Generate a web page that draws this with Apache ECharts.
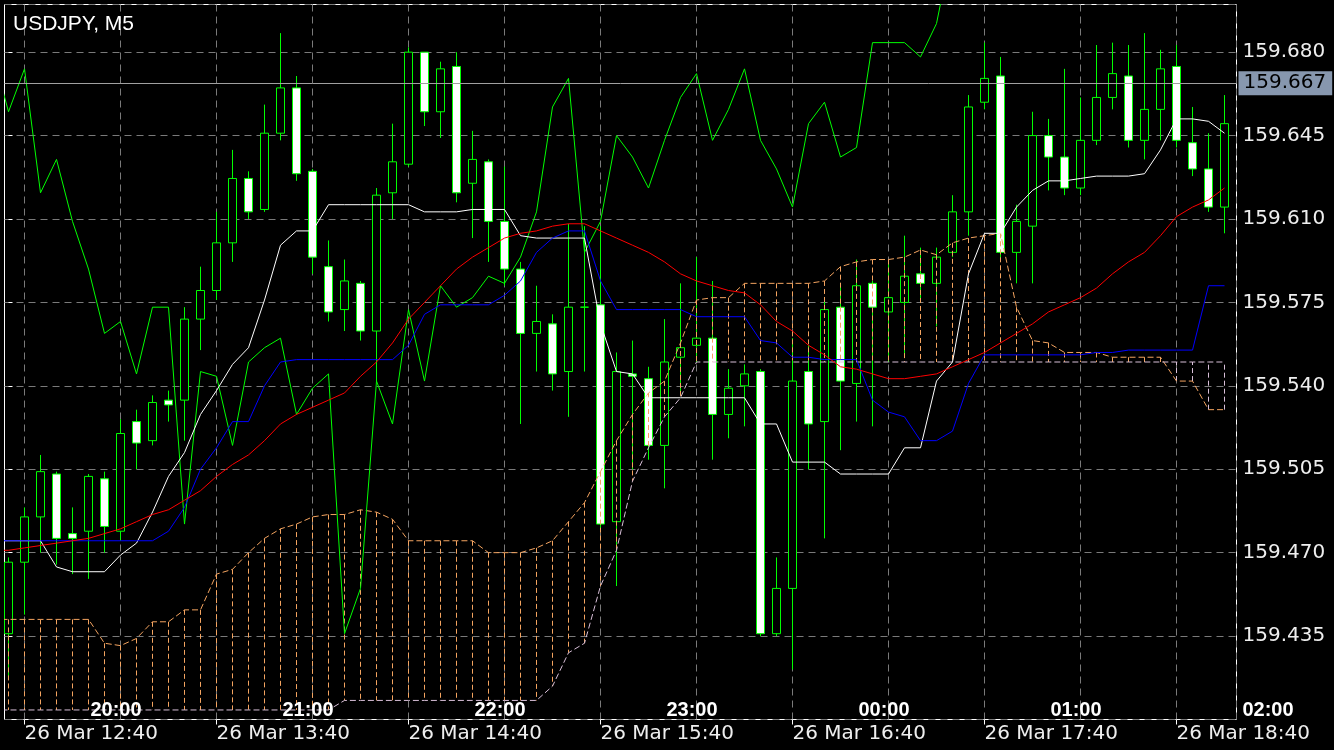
<!DOCTYPE html>
<html>
<head>
<meta charset="utf-8">
<script src="https://cdn.jsdelivr.net/npm/echarts@6/dist/echarts.min.js"></script>
<style>
html,body{margin:0;padding:0;background:#000;}
#c{width:1334px;height:750px;}
</style>
</head>
<body>
<div id="c"></div>
<script>
// ---------------- data ----------------
const symbolTitle = 'USDJPY, M5';
const bottomLabels = ['26 Mar 12:40','26 Mar 13:40','26 Mar 14:40','26 Mar 15:40','26 Mar 16:40','26 Mar 17:40','26 Mar 18:40'];
const topLabels = ['20:00','21:00','22:00','23:00','00:00','01:00','02:00'];
const currentPrice = 159.667;

// candles, index 0..76
const opens = [159.436,159.466,159.485,159.503,159.478,159.479,159.501,159.479,159.525,159.517,
159.534,159.534,159.568,159.580,159.600,159.627,159.614,159.646,159.665,159.630,
159.590,159.572,159.583,159.563,159.621,159.633,159.680,159.655,159.674,159.625,
159.634,159.609,159.589,159.562,159.566,159.546,159.573,159.574,159.483,159.545,
159.543,159.515,159.552,159.557,159.560,159.528,159.540,159.546,159.436,159.455,
159.546,159.525,159.573,159.541,159.583,159.571,159.575,159.587,159.583,159.596,
159.613,159.659,159.670,159.596,159.607,159.645,159.636,159.623,159.643,159.661,
159.670,159.643,159.656,159.674,159.642,159.631,159.615];
const closes = [159.466,159.485,159.504,159.476,159.476,159.502,159.481,159.520,159.516,159.533,
159.532,159.568,159.580,159.600,159.627,159.613,159.646,159.665,159.629,159.594,
159.571,159.584,159.563,159.620,159.634,159.680,159.655,159.673,159.621,159.635,
159.609,159.589,159.562,159.567,159.545,159.573,159.573,159.482,159.546,159.544,
159.515,159.550,159.556,159.560,159.528,159.539,159.545,159.436,159.455,159.542,
159.524,159.572,159.542,159.582,159.573,159.577,159.586,159.583,159.594,159.613,
159.657,159.669,159.596,159.609,159.645,159.636,159.623,159.643,159.661,159.671,
159.643,159.656,159.673,159.643,159.631,159.615,159.650];
const lows = [159.417,159.444,159.470,159.465,159.461,159.459,159.470,159.475,159.505,159.515,
159.525,159.517,159.555,159.576,159.592,159.610,159.613,159.643,159.626,159.587,
159.567,159.563,159.559,159.542,159.610,159.632,159.649,159.644,159.617,159.602,
159.592,159.582,159.524,159.546,159.538,159.527,159.546,159.479,159.456,159.505,
159.509,159.497,159.536,159.550,159.509,159.518,159.523,159.435,159.435,159.421,
159.505,159.476,159.513,159.525,159.523,159.550,159.552,159.575,159.565,159.594,
159.603,159.656,159.592,159.583,159.583,159.622,159.620,159.620,159.641,159.656,
159.640,159.635,159.643,159.640,159.628,159.613,159.604];
const highs = [159.468,159.489,159.511,159.504,159.489,159.503,159.504,159.526,159.530,159.536,
159.538,159.573,159.590,159.613,159.639,159.630,159.658,159.688,159.670,159.631,
159.601,159.593,159.584,159.623,159.650,159.682,159.680,159.676,159.680,159.647,
159.635,159.632,159.592,159.582,159.570,159.608,159.607,159.607,159.554,159.559,
159.548,159.568,159.583,159.594,159.584,159.547,159.549,159.547,159.468,159.560,
159.557,159.576,159.582,159.593,159.584,159.592,159.603,159.598,159.598,159.620,
159.662,159.684,159.678,159.616,159.655,159.652,159.673,159.661,159.683,159.684,
159.683,159.688,159.681,159.683,159.657,159.646,159.662];

// indicator lines start at bar index -1
const lineStart = -1;
const chikou = [159.680,159.655,159.673,159.621,159.635,159.609,159.589,159.562,159.567,159.545,
159.573,159.573,159.482,159.546,159.544,159.515,159.550,159.556,159.560,159.528,
159.539,159.545,159.436,159.455,159.542,159.524,159.572,159.542,159.582,159.573,
159.577,159.586,159.583,159.594,159.613,159.657,159.669,159.596,159.609,159.645,
159.636,159.623,159.643,159.661,159.671,159.643,159.656,159.673,159.643,159.631,
159.615,159.650,159.659,159.636,159.640,159.684,159.684,159.684,159.678,159.692,
159.725];
const tenkan = [159.475,159.475,159.475,159.475,159.464,159.462,159.462,159.462,159.469,159.474,
159.487,159.502,159.512,159.528,159.538,159.549,159.556,159.576,159.599,159.605,
159.605,159.616,159.616,159.616,159.616,159.616,159.616,159.613,159.613,159.613,
159.614,159.614,159.614,159.603,159.602,159.602,159.602,159.602,159.566,159.546,
159.545,159.535,159.535,159.535,159.535,159.535,159.535,159.535,159.524,159.524,
159.508,159.508,159.508,159.503,159.503,159.503,159.503,159.514,159.514,159.542,
159.550,159.587,159.604,159.604,159.615,159.622,159.626,159.626,159.627,159.628,
159.628,159.628,159.629,159.639,159.652,159.652,159.651,159.646];
const kijun = [159.475,159.475,159.475,159.475,159.475,159.475,159.475,159.475,159.475,159.475,
159.475,159.479,159.489,159.505,159.514,159.525,159.525,159.540,159.550,159.551,
159.551,159.551,159.551,159.551,159.551,159.551,159.557,159.570,159.574,159.574,
159.574,159.574,159.578,159.584,159.596,159.602,159.605,159.605,159.584,159.572,
159.572,159.572,159.572,159.572,159.569,159.569,159.569,159.569,159.559,159.558,
159.552,159.552,159.551,159.551,159.551,159.534,159.529,159.527,159.517,159.517,
159.521,159.541,159.553,159.553,159.553,159.553,159.553,159.553,159.553,159.554,
159.554,159.555,159.555,159.555,159.555,159.555,159.582,159.582];
const movingAvg = [159.471,159.471,159.472,159.473,159.474,159.475,159.476,159.478,159.480,159.483,
159.486,159.488,159.492,159.496,159.502,159.507,159.511,159.517,159.524,159.528,
159.531,159.534,159.537,159.544,159.550,159.558,159.568,159.575,159.582,159.589,
159.594,159.598,159.602,159.604,159.605,159.607,159.608,159.608,159.605,159.602,
159.599,159.596,159.592,159.587,159.584,159.582,159.580,159.579,159.574,159.567,
159.563,159.557,159.553,159.548,159.547,159.545,159.543,159.543,159.544,159.545,
159.548,159.551,159.554,159.558,159.562,159.566,159.571,159.574,159.577,159.581,
159.587,159.592,159.596,159.603,159.611,159.615,159.618,159.623];
const spanA = [159.442,159.442,159.442,159.442,159.442,159.442,159.442,159.432,159.431,159.434,
159.441,159.441,159.446,159.446,159.461,159.463,159.470,159.476,159.480,159.482,
159.485,159.486,159.486,159.488,159.487,159.484,159.475,159.475,159.475,159.475,
159.475,159.470,159.470,159.470,159.472,159.475,159.483,159.491,159.504,159.517,
159.528,159.537,159.542,159.558,159.576,159.577,159.577,159.583,159.583,159.583,
159.583,159.583,159.584,159.590,159.592,159.593,159.593,159.594,159.597,159.595,
159.600,159.602,159.603,159.604,159.573,159.559,159.558,159.554,159.554,159.554,
159.552,159.552,159.552,159.552,159.542,159.542,159.530,159.530];
const spanB = [159.404,159.404,159.404,159.404,159.404,159.404,159.404,159.404,159.404,159.404,
159.404,159.404,159.404,159.404,159.404,159.404,159.404,159.404,159.404,159.404,
159.404,159.404,159.408,159.408,159.408,159.408,159.408,159.408,159.408,159.408,
159.408,159.408,159.408,159.408,159.408,159.414,159.428,159.432,159.456,159.471,
159.500,159.514,159.527,159.535,159.550,159.550,159.550,159.550,159.550,159.550,
159.550,159.550,159.550,159.550,159.550,159.550,159.550,159.550,159.550,159.550,
159.550,159.550,159.550,159.550,159.550,159.550,159.550,159.550,159.550,159.550,
159.550,159.550,159.550,159.550,159.550,159.550,159.550,159.550];

// ---------------- chart ----------------
const candleData = opens.map((o, i) => [i, o, closes[i], lows[i], highs[i]]);
const toPairs = (arr) => arr.map((v, k) => [lineStart + k, v]);
const cloudData = spanA.map((a, k) => [lineStart + k, a, spanB[k]]);

const ORANGE = '#F4A460', THISTLE = '#D8BFD8', GRIDC = '#7a7a7a';
const gridBox = {left: 4.5, right: 97.5, top: 4.5, bottom: 30.5, outerBoundsMode: 'none', containLabel: false};

function lineSeries(name, data, color, dash, z) {
  return {
    name, type: 'line', xAxisIndex: 0, yAxisIndex: 0, data: toPairs(data),
    showSymbol: false, symbol: 'none', silent: true, clip: true, z: z || 4,
    lineStyle: {color, width: 1, type: dash || 'solid'}
  };
}

const chart = echarts.init(document.getElementById('c'), null, {renderer: 'canvas'});
chart.setOption({
  backgroundColor: '#000',
  animation: false,
  title: {
    text: symbolTitle, left: 8, top: 9,
    textStyle: {color: '#fff', fontFamily: 'Liberation Sans', fontSize: 21, fontWeight: 'normal'}
  },
  grid: [
    Object.assign({show: true, borderColor: '#fff', borderWidth: 1, backgroundColor: '#000'}, gridBox),
    {left: 24.5, right: 97.5, top: 4.5, bottom: 30.5, outerBoundsMode: 'none'},
    {left: 24.5, right: 97.5, top: 4.5, bottom: 30.5, outerBoundsMode: 'none'},
    {left: 116, right: 66, top: 722, bottom: 27, outerBoundsMode: 'none'}
  ],
  xAxis: [
    {gridIndex: 0, type: 'value', min: -0.25, max: 76.75, show: false},
    {gridIndex: 1, type: 'value', min: 1, max: 76.75, interval: 6,
     axisLine: {show: false}, axisTick: {show: false}, axisLabel: {show: false},
     splitLine: {show: true, lineStyle: {color: GRIDC, width: 1, type: [7, 5]}}},
    {gridIndex: 2, type: 'value', min: 1, max: 76.75, interval: 12,
     axisLine: {show: false}, splitLine: {show: false},
     axisTick: {show: true, length: 5, lineStyle: {color: '#fff'}},
     axisLabel: {showMaxLabel: false, showMinLabel: true, align: 'left', margin: 4,
       color: '#eeeeee', fontSize: 20, fontFamily: 'DejaVu Sans',
       formatter: (v) => { const k = (v - 1) / 12; return Math.abs(k - Math.round(k)) < 1e-6 ? (bottomLabels[Math.round(k)] || '') : ''; }}},
    {gridIndex: 3, type: 'value', position: 'top', min: 0, max: 6, interval: 1, z: 10,
     axisLine: {show: false}, axisTick: {show: false}, splitLine: {show: false},
     axisLabel: {margin: 2, color: '#ffffff', fontSize: 20, fontWeight: 'bold', fontFamily: 'Liberation Sans',
       formatter: (v) => topLabels[Math.round(v)] || ''}}
  ],
  yAxis: [
    {gridIndex: 0, type: 'value', position: 'right', min: 159.4, max: 159.7, interval: 0.035,
     axisLine: {show: false},
     axisTick: {show: true, length: 4, lineStyle: {color: '#ffffff'}},
     splitLine: {show: true, lineStyle: {color: GRIDC, width: 1, type: [7, 5]}},
     axisLabel: {showMinLabel: false, showMaxLabel: false, margin: 6, color: '#eeeeee',
       fontSize: 20, fontFamily: 'DejaVu Sans', formatter: (v) => v.toFixed(3)}},
    {gridIndex: 1, type: 'value', min: 0, max: 1, show: false},
    {gridIndex: 2, type: 'value', min: 0, max: 1, show: false},
    {gridIndex: 3, type: 'value', min: 0, max: 1, show: false}
  ],
  series: [
    {
      type: 'candlestick', xAxisIndex: 0, yAxisIndex: 0, data: candleData,
      encode: {x: 0, y: [1, 2, 3, 4]}, barWidth: 8, clip: true, silent: true, z: 2,
      itemStyle: {color: '#000', color0: '#fff', borderColor: '#00ff00', borderColor0: '#00ff00',
                  borderColorDoji: '#00ff00', borderWidth: 1},
      markLine: {
        silent: true, symbol: ['none', 'none'], animation: false, z: 6, precision: 3,
        lineStyle: {color: '#a0a0a0', type: 'solid', width: 1},
        label: {show: true, position: 'end', distance: 2, formatter: currentPrice.toFixed(3),
                color: '#000', backgroundColor: '#8797ae', padding: [2, 6, 2, 5],
                fontSize: 20, fontFamily: 'DejaVu Sans'},
        data: [{yAxis: currentPrice}]
      }
    },
    {
      type: 'custom', xAxisIndex: 0, yAxisIndex: 0, data: cloudData, clip: true, silent: true, z: 3,
      encode: {x: 0, y: [1, 2]},
      renderItem: (params, api) => {
        const x = api.value(0), a = api.value(1), b = api.value(2);
        const p1 = api.coord([x, a]), p2 = api.coord([x, b]);
        return {type: 'line', shape: {x1: p1[0], y1: p1[1], x2: p2[0], y2: p2[1]},
                style: {stroke: a >= b ? ORANGE : THISTLE, lineWidth: 1, lineDash: [5, 3]}};
      }
    },
    lineSeries('Senkou A', spanA, ORANGE, [6, 3], 3),
    lineSeries('Senkou B', spanB, THISTLE, [6, 3], 3),
    lineSeries('Chikou', chikou, '#00ff00', 'solid', 4),
    lineSeries('Tenkan', tenkan, '#ffffff', 'solid', 4),
    lineSeries('Kijun', kijun, '#0000ff', 'solid', 4),
    lineSeries('MA', movingAvg, '#ff0000', 'solid', 4)
  ]
});
</script>
</body>
</html>
